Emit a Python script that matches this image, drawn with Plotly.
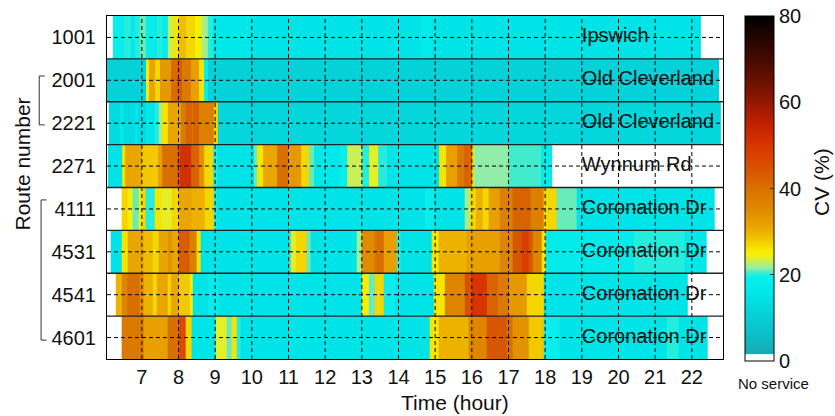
import plotly.graph_objects as go

# ---------------- data ----------------
routes = ["1001", "2001", "2221", "2271", "4111", "4531", "4541", "4601"]
corridors = ["Ipswich", "Old Cleverland", "Old Cleverland", "Wynnum Rd",
             "Coronation Dr", "Coronation Dr", "Coronation Dr", "Coronation Dr"]
hour_ticks = list(range(7, 23))
cbar_ticks = [0, 20, 40, 60, 80]

# segment edges (hour) and CV (%) of each segment, per route
t_1001 = [6.21, 6.5, 6.7, 6.8, 6.95, 7.1, 7.4, 7.55, 7.7, 7.85, 8.0, 8.2, 8.45, 8.65, 8.8, 8.95,
          10.0, 14.6, 14.9, 22.25]
cv_1001 = [19, 20, 17, 20, 21, 18, 20, 18, 23, 26, 29, 27, 25, 22, 20, 16, 15, 17, 15]

t_2001 = [6.05, 7.1, 7.2, 7.35, 7.5, 7.8, 7.95, 8.1, 8.35, 8.55, 8.7, 8.8, 22.73]
cv_2001 = [11, 25, 31, 27, 33, 41, 43, 38, 32, 26, 19, 11]

t_2221 = [6.1, 6.4, 6.5, 6.8, 6.9, 7.1, 7.35, 7.45, 7.55, 7.7, 8.05, 8.2, 8.35, 8.4, 8.55, 8.95,
          9.07, 22.8]
cv_2221 = [13, 16, 13, 16, 13, 16, 20, 22, 26, 31, 38, 42, 38, 42, 37, 27, 12]

t_2271 = [6.08, 6.45, 6.55, 7.0, 7.45, 7.55, 7.95, 8.05, 8.35, 8.55, 8.7, 8.95, 9.05, 10.05,
          10.15, 10.3, 10.7, 11.0, 11.35, 11.55, 11.7, 12.4, 12.6, 13.0, 13.2, 13.45, 13.7,
          15.1, 15.3, 15.6, 15.8, 16.0, 16.05, 17.0, 17.9, 18.18]
cv_2271 = [15, 26, 31, 28, 32, 40, 45, 51, 42, 34, 27, 20, 15, 21, 26, 31, 40, 33, 27, 21, 16,
           19, 23, 20, 24, 20, 15, 26, 32, 38, 42, 26, 21.5, 20.5, 17]

t_4111 = [6.45, 6.6, 6.75, 6.9, 7.0, 7.1, 7.35, 7.55, 7.8, 8.0, 8.35, 8.7, 8.95, 9.05, 14.7,
          14.95, 15.8, 15.95, 16.1, 16.3, 16.45, 16.75, 17.1, 17.6, 17.95, 18.3, 18.85, 22.63]
cv_4111 = [27, 25, 21, 25, 27, 20, 26, 24, 27, 31, 30, 27, 20, 15, 19, 15, 22, 27, 30, 27, 32,
           37, 42, 37, 27, 21, 15]

t_4531 = [6.15, 6.45, 6.6, 7.05, 7.3, 7.45, 7.7, 7.8, 8.0, 8.3, 8.5, 8.6, 11.05, 11.2, 11.5,
          11.6, 12.85, 13.0, 13.35, 13.6, 13.95, 14.05, 14.9, 15.1, 15.85, 16.75, 17.1, 17.35,
          17.55, 17.65, 17.9, 18.0, 20.4, 21.8, 22.4]
cv_4531 = [15, 26, 31, 29, 27, 31, 34, 31, 43, 37, 26, 15, 24, 27, 21, 15, 22, 35, 40, 32, 20,
           15, 26, 30, 32, 36, 44, 48, 44, 36, 26, 17, 20, 16]

t_4541 = [6.29, 6.45, 6.6, 6.95, 7.05, 7.3, 7.4, 7.7, 7.8, 8.0, 8.3, 8.4, 8.8, 9.1, 13.0, 13.2,
          13.35, 13.6, 13.9, 14.95, 15.25, 15.8, 16.0, 16.4, 16.7, 17.0, 17.5, 17.95, 21.9]
cv_4541 = [30, 36, 40, 34, 30, 27, 31, 27, 31, 28, 25, 15, 18, 15, 25, 21, 27, 19, 15, 26, 36,
           45, 50, 42, 38, 33, 27, 15]

t_4601 = [6.45, 7.05, 7.7, 8.0, 8.2, 8.35, 9.0, 9.3, 9.45, 9.6, 9.7, 14.85, 15.1, 15.9, 16.4,
          16.95, 17.1, 17.55, 17.95, 18.4, 21.3, 21.65, 22.43]
cv_4601 = [38, 32, 40, 46, 27, 15, 24, 21, 26, 20, 15, 26, 30, 36, 44, 40, 34, 28, 19, 15, 20, 15]

edges = [t_1001, t_2001, t_2221, t_2271, t_4111, t_4531, t_4541, t_4601]
values = [cv_1001, cv_2001, cv_2221, cv_2271, cv_4111, cv_4531, cv_4541, cv_4601]

# ---------------- style ----------------
FONT = "Liberation Sans, Arial, Helvetica, sans-serif"
CMAX = 80.0
cs_pts = [(0, '#ffffff'), (1.5, '#ffffff'), (1.55, '#18aab2'), (6, '#0cbec6'), (12, '#04d6dc'),
          (16, '#00e8ea'), (19.5, '#0aeeee'), (20.5, '#40eccc'), (21.5, '#90eea8'),
          (23, '#c8ee58'), (24.5, '#f2f010'), (25.5, '#f6ec00'), (28, '#f2c800'),
          (31, '#eaa600'), (35, '#e08a00'), (40, '#d87000'), (45, '#d85000'),
          (50, '#d83400'), (55, '#c02000'), (60, '#921800'), (66, '#601000'),
          (72, '#360800'), (80, '#000000')]
colorscale = [[v / CMAX, c] for v, c in cs_pts]

fig = go.Figure()
for i, (tx, cv) in enumerate(zip(edges, values)):
    fig.add_trace(go.Heatmap(
        x=tx, y=[i - 0.5, i + 0.5], z=[cv], coloraxis="coloraxis",
        zsmooth=False, hoverinfo="skip", showscale=False))

fig.add_trace(go.Scatter(
    x=[19.0] * len(routes), y=list(range(len(routes))), mode="text", text=corridors,
    textposition="middle right", textfont=dict(family=FONT, size=20, color="#111111"),
    showlegend=False, hoverinfo="skip", cliponaxis=False))

shapes = []
dash = "4px,3px"
for h in hour_ticks:
    shapes.append(dict(type="line", xref="x", yref="paper", x0=h, x1=h, y0=0, y1=1,
                       line=dict(color="black", width=1, dash=dash), layer="above"))
for i in range(len(routes)):
    shapes.append(dict(type="line", xref="paper", yref="y", x0=0, x1=1, y0=i, y1=i,
                       line=dict(color="black", width=1, dash=dash), layer="above"))
for i in range(len(routes) - 1):
    shapes.append(dict(type="line", xref="paper", yref="y", x0=0, x1=1, y0=i + 0.5, y1=i + 0.5,
                       line=dict(color="#222222", width=1.4), layer="above"))
# group brackets at left
shapes.append(dict(type="path", xref="paper", yref="y",
                   path="M -0.101,0.9 L -0.110,0.9 L -0.110,2.04 L -0.101,2.04",
                   line=dict(color="#333333", width=1)))
shapes.append(dict(type="path", xref="paper", yref="y",
                   path="M -0.098,3.79 L -0.107,3.79 L -0.107,7.06 L -0.098,7.06",
                   line=dict(color="#333333", width=1)))

fig.update_layout(
    width=835, height=416,
    margin=dict(l=107, r=112, t=16, b=57),
    paper_bgcolor="white", plot_bgcolor="white",
    font=dict(family=FONT, size=20, color="#111111"),
    shapes=shapes,
    coloraxis=dict(
        cmin=0, cmax=CMAX, colorscale=colorscale,
        colorbar=dict(x=1.0357, xanchor="left", xpad=0, ypad=0, y=0.497, yanchor="middle",
                      len=345, lenmode="pixels", thickness=29, thicknessmode="pixels",
                      outlinewidth=1, outlinecolor="black",
                      tickvals=cbar_ticks, ticks="inside", ticklen=4, tickcolor="#333333",
                      tickfont=dict(family=FONT, size=20, color="#111111"))),
    xaxis=dict(range=[6.05, 22.85], tickvals=hour_ticks, ticks="", showgrid=False,
               zeroline=False, showline=True, linecolor="black", linewidth=1, mirror=True,
               tickfont=dict(size=20), ticklabelstandoff=0),
    yaxis=dict(range=[7.5, -0.5], tickvals=list(range(len(routes))), ticktext=routes,
               ticks="", showgrid=False, zeroline=False, showline=True, linecolor="black",
               linewidth=1, mirror=True, tickfont=dict(size=20), ticklabelstandoff=6),
    annotations=[
        dict(text="Time (hour)", xref="paper", yref="paper", x=0.565, y=-0.128,
             showarrow=False, font=dict(size=21), xanchor="center", yanchor="middle"),
        dict(text="Route number", xref="paper", yref="paper", x=-0.138, y=0.57,
             showarrow=False, font=dict(size=21), textangle=-90,
             xanchor="center", yanchor="middle"),
        dict(text="CV (%)", xref="paper", yref="paper", x=1.159, y=0.516,
             showarrow=False, font=dict(size=21), textangle=-90,
             xanchor="center", yanchor="middle"),
        dict(text="No service", xref="paper", yref="paper", x=1.082, y=-0.07,
             showarrow=False, font=dict(size=15), xanchor="center", yanchor="middle"),
    ],
)

fig.write_html("out.html")
